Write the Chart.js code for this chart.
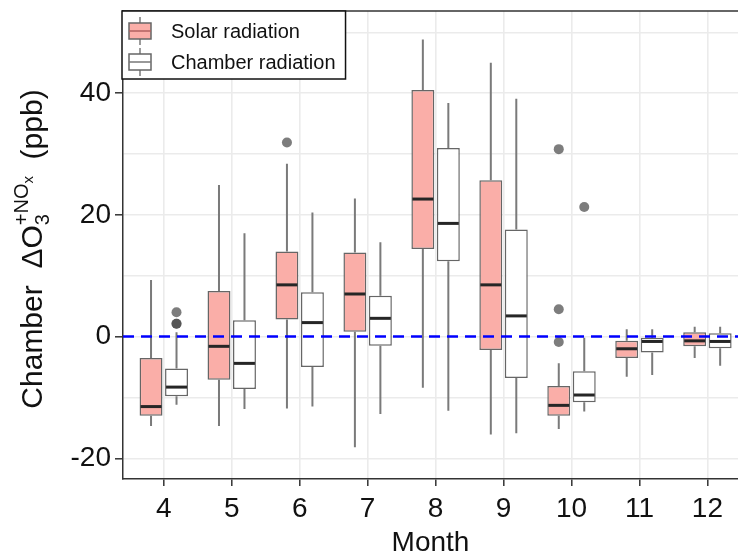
<!DOCTYPE html>
<html>
<head>
<meta charset="utf-8">
<script src="https://cdn.jsdelivr.net/npm/chart.js@4"></script>
<style>
  body { margin: 0; background: #fff; }
  #wrap { width: 738px; height: 554px; position: relative; }
</style>
</head>
<body>
<div id="wrap"><canvas id="o3Chart"></canvas></div>
<script>
// Months on the x axis
var months = [4, 5, 6, 7, 8, 9, 10, 11, 12];
var seriesNames = ['Solar radiation', 'Chamber radiation'];

// Solar radiation box statistics (ppb)
var solarMin    = [-14.7, -14.7, -11.8, -18.2, -8.4, -16.1, -15.2, -6.6, -3.5];
var solarQ1     = [-13.0, -7.1, 2.8, 0.8, 14.4, -2.2, -13.0, -3.5, -1.6];
var solarMedian = [-11.5, -1.6, 8.5, 7.0, 22.6, 8.5, -11.3, -2.0, -0.7];
var solarQ3     = [-3.5, 7.5, 14.0, 13.8, 40.5, 25.7, -8.1, -0.7, 0.7];
var solarMax    = [9.3, 24.9, 28.4, 22.7, 48.8, 45.0, -4.4, 1.2, 1.6];
var solarOutliers = [[], [], [31.9], [], [], [], [30.8, 4.5, -0.9], [], []];

// Chamber radiation box statistics (ppb)
var chamberMin    = [-11.2, -11.9, -11.5, -12.7, -12.2, -15.9, -12.3, -6.3, -4.8];
var chamberQ1     = [-9.8, -8.6, -5.0, -1.5, 12.4, -6.8, -10.8, -2.6, -1.9];
var chamberMedian = [-8.3, -4.4, 2.3, 3.0, 18.6, 3.4, -9.6, -0.8, -0.8];
var chamberQ3     = [-5.25, 2.7, 7.3, 6.7, 31.0, 17.6, -5.7, -0.2, 0.55];
var chamberMax    = [0.7, 17.0, 20.4, 15.5, 38.4, 39.1, -0.2, 1.2, 1.6];
var chamberOutliers = [[4.0, 2.1, 2.1], [], [], [], [], [], [21.3], [], []];

// Labelled y ticks and the reference line
var yLabelTicks = [-20, 0, 20, 40];
var refValue = 0;

var FONT = '"Liberation Sans", Arial, sans-serif';

function boxData(q1, q3) {
    return months.map(function(m, i) {
        return { x: m, y: [q1[i], q3[i]] };
    });
}

// Whiskers, medians, outliers and the dashed zero line
var boxExtras = {
    id: 'boxExtras',
    beforeDatasetsDraw: function(chart) {
        var ctx = chart.ctx;
        var y = chart.scales.y;
        var a = chart.chartArea;
        ctx.save();
        ctx.beginPath();
        ctx.rect(a.left, a.top, a.right - a.left, a.bottom - a.top);
        ctx.clip();
        ctx.strokeStyle = '#7a7a7a';
        ctx.lineWidth = 2;
        chart.data.datasets.forEach(function(ds, di) {
            var meta = chart.getDatasetMeta(di);
            meta.data.forEach(function(bar, i) {
                ctx.beginPath();
                ctx.moveTo(bar.x, y.getPixelForValue(ds.whiskerMax[i]));
                ctx.lineTo(bar.x, y.getPixelForValue(ds.data[i].y[1]));
                ctx.moveTo(bar.x, y.getPixelForValue(ds.data[i].y[0]));
                ctx.lineTo(bar.x, y.getPixelForValue(ds.whiskerMin[i]));
                ctx.stroke();
            });
        });
        ctx.restore();
    },
    afterDatasetsDraw: function(chart) {
        var ctx = chart.ctx;
        var y = chart.scales.y;
        var a = chart.chartArea;
        ctx.save();
        chart.data.datasets.forEach(function(ds, di) {
            var meta = chart.getDatasetMeta(di);
            meta.data.forEach(function(bar, i) {
                // median
                var py = y.getPixelForValue(ds.median[i]);
                ctx.strokeStyle = '#262626';
                ctx.lineWidth = 3;
                ctx.beginPath();
                ctx.moveTo(bar.x - bar.width / 2 + 1, py);
                ctx.lineTo(bar.x + bar.width / 2 - 1, py);
                ctx.stroke();
                // outliers
                ctx.fillStyle = 'rgba(70, 70, 70, 0.7)';
                ds.outliers[i].forEach(function(v) {
                    ctx.beginPath();
                    ctx.arc(bar.x, y.getPixelForValue(v), 5, 0, Math.PI * 2);
                    ctx.fill();
                });
            });
        });
        // dashed reference line
        var zy = y.getPixelForValue(refValue);
        ctx.strokeStyle = '#0000ff';
        ctx.lineWidth = 2.5;
        ctx.setLineDash([11, 7]);
        ctx.beginPath();
        ctx.moveTo(a.left, zy);
        ctx.lineTo(a.right, zy);
        ctx.stroke();
        ctx.setLineDash([]);
        // top panel border
        ctx.strokeStyle = '#333';
        ctx.lineWidth = 1.5;
        ctx.beginPath();
        ctx.moveTo(a.left, a.top);
        ctx.lineTo(a.right, a.top);
        ctx.stroke();
        ctx.restore();
    },
    afterDraw: function(chart) {
        drawLegend(chart);
        drawYTitle(chart);
    }
};

function drawLegend(chart) {
    var ctx = chart.ctx;
    var a = chart.chartArea;
    var left = a.left - 1, top = a.top;
    ctx.save();
    ctx.font = '20px ' + FONT;
    var maxW = 0;
    chart.data.datasets.forEach(function(ds) {
        maxW = Math.max(maxW, ctx.measureText(ds.label).width);
    });
    var w = 49 + maxW + 10, h = 68;
    ctx.fillStyle = '#fff';
    ctx.fillRect(left, top, w, h);
    ctx.strokeStyle = '#111';
    ctx.lineWidth = 1.5;
    ctx.strokeRect(left, top, w, h);
    chart.data.datasets.forEach(function(ds, i) {
        var cy = top + 20 + i * 31;
        var cx = left + 18;
        ctx.strokeStyle = '#7a7a7a';
        ctx.lineWidth = 1.5;
        ctx.beginPath();
        ctx.moveTo(cx, cy - 14);
        ctx.lineTo(cx, cy + 14);
        ctx.stroke();
        ctx.fillStyle = ds.backgroundColor;
        ctx.fillRect(cx - 11, cy - 8, 22, 16);
        ctx.strokeStyle = '#666';
        ctx.strokeRect(cx - 11, cy - 8, 22, 16);
        ctx.strokeStyle = i === 0 ? '#b06060' : '#777';
        ctx.beginPath();
        ctx.moveTo(cx - 11, cy);
        ctx.lineTo(cx + 11, cy);
        ctx.stroke();
        ctx.fillStyle = '#111';
        ctx.textBaseline = 'middle';
        ctx.fillText(ds.label, left + 49, cy + 1);
    });
    ctx.restore();
}

// y title: Chamber  ΔO3^(+NOx)  (ppb)
function drawYTitle(chart) {
    var ctx = chart.ctx;
    var big = '30px ' + FONT, small = '20px ' + FONT, tiny = '15px ' + FONT;
    ctx.save();
    ctx.fillStyle = '#111';
    ctx.textBaseline = 'alphabetic';
    ctx.font = big;
    var w1 = ctx.measureText('Chamber  \u0394O').width;
    ctx.font = small;
    var wSub = ctx.measureText('3').width;
    var wSup = ctx.measureText('+NO').width;
    ctx.font = tiny;
    var wx = ctx.measureText('x').width;
    ctx.font = big;
    var wEnd = ctx.measureText('  (ppb)').width;
    var afterScripts = w1 + Math.max(wSub, wSup + wx);
    var total = afterScripts + wEnd;
    ctx.translate(42, 249);
    ctx.rotate(-Math.PI / 2);
    var x0 = -total / 2;
    ctx.font = big;
    ctx.fillText('Chamber  \u0394O', x0, 0);
    ctx.font = small;
    ctx.fillText('3', x0 + w1, 7);
    ctx.fillText('+NO', x0 + w1, -14);
    ctx.font = tiny;
    ctx.fillText('x', x0 + w1 + wSup, -9);
    ctx.font = big;
    ctx.fillText('  (ppb)', x0 + afterScripts, 0);
    ctx.restore();
}

document.addEventListener('DOMContentLoaded', function() {
    var ctx = document.getElementById('o3Chart').getContext('2d');
    new Chart(ctx, {
        type: 'bar',
        data: {
            datasets: [{
                label: seriesNames[0],
                data: boxData(solarQ1, solarQ3),
                whiskerMin: solarMin,
                whiskerMax: solarMax,
                median: solarMedian,
                outliers: solarOutliers,
                backgroundColor: 'rgb(250, 174, 168)',
                borderColor: '#666',
                borderWidth: 1.5,
                borderSkipped: false
            }, {
                label: seriesNames[1],
                data: boxData(chamberQ1, chamberQ3),
                whiskerMin: chamberMin,
                whiskerMax: chamberMax,
                median: chamberMedian,
                outliers: chamberOutliers,
                backgroundColor: '#ffffff',
                borderColor: '#666',
                borderWidth: 1.5,
                borderSkipped: false
            }]
        },
        options: {
            responsive: true,
            maintainAspectRatio: false,
            animation: false,
            categoryPercentage: 0.75,
            barPercentage: 0.9,
            layout: { padding: { top: 11, left: 0, right: 0, bottom: 0 } },
            plugins: {
                legend: { display: false },
                tooltip: { enabled: false }
            },
            scales: {
                x: {
                    type: 'linear',
                    min: 3.4,
                    max: 12.45,
                    offset: false,
                    afterFit: function(s) {
                        s.height = 75;
                        s.paddingLeft = 0;
                        s.paddingRight = 0;
                    },
                    border: { color: '#333', width: 1.5 },
                    grid: {
                        offset: false,
                        color: '#ebebeb',
                        lineWidth: 1.6,
                        tickLength: 7,
                        tickColor: '#333',
                        tickWidth: 1.5
                    },
                    ticks: {
                        stepSize: 1,
                        includeBounds: false,
                        maxRotation: 0,
                        autoSkip: false,
                        padding: 6,
                        color: '#111',
                        font: { family: FONT, size: 28 }
                    },
                    title: {
                        display: true,
                        text: 'Month',
                        color: '#111',
                        padding: { top: 0, bottom: -3 },
                        font: { family: FONT, size: 28, lineHeight: 1 }
                    }
                },
                y: {
                    min: -23.4,
                    max: 53.5,
                    afterFit: function(s) {
                        s.width = 123;
                        s.paddingTop = 0;
                        s.paddingBottom = 0;
                    },
                    border: { color: '#333', width: 1.5 },
                    grid: {
                        color: '#ebebeb',
                        lineWidth: 1.6,
                        tickLength: 8,
                        tickWidth: 1.5,
                        tickColor: function(c) {
                            return c.tick && yLabelTicks.indexOf(c.tick.value) >= 0 ? '#333' : 'rgba(0,0,0,0)';
                        }
                    },
                    ticks: {
                        stepSize: 10,
                        includeBounds: false,
                        padding: 4,
                        color: '#111',
                        font: { family: FONT, size: 28 },
                        callback: function(v) {
                            return yLabelTicks.indexOf(v) >= 0 ? v : '';
                        }
                    }
                }
            }
        },
        plugins: [boxExtras]
    });
});
</script>
</body>
</html>
